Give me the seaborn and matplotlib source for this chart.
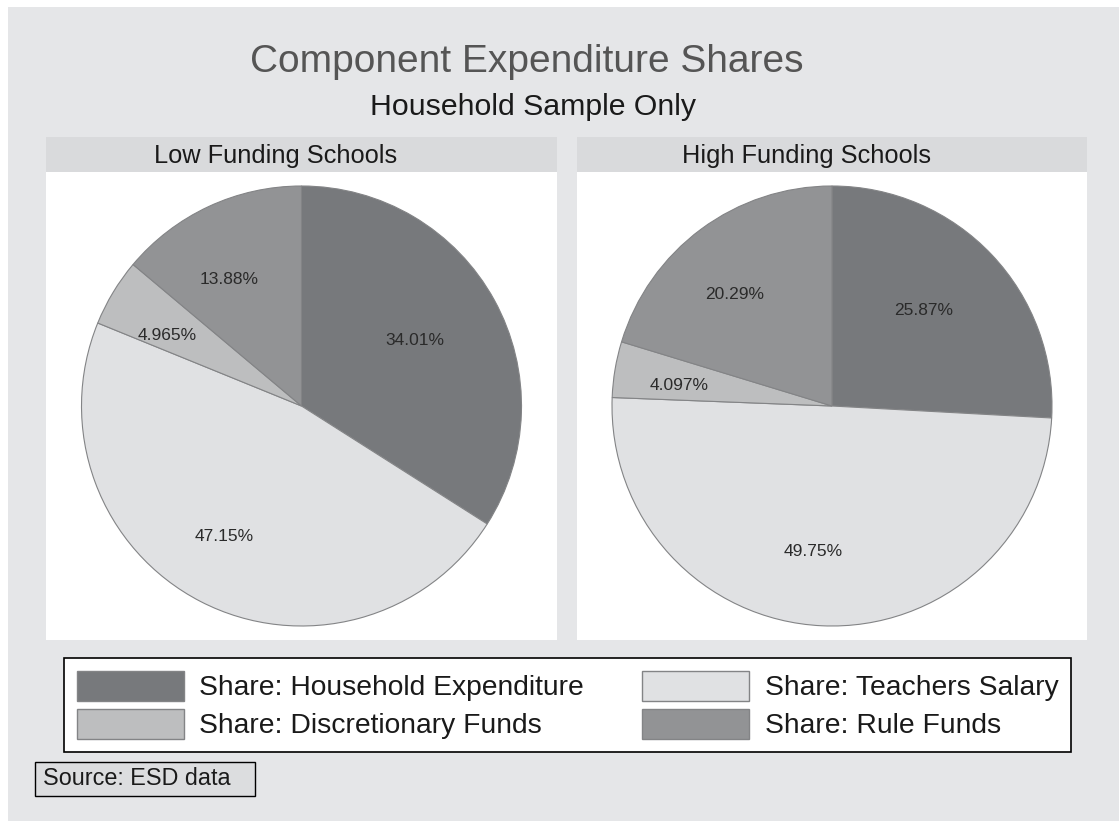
"""
Component expenditure shares, low vs high funding schools (household sample).
Stata-style pair of pies with a shared legend below.
"""
import matplotlib
matplotlib.use("Agg")
import matplotlib.pyplot as plt
import matplotlib.transforms as mtransforms
from matplotlib.patches import Patch, Rectangle
import seaborn as sns

# ---- data -------------------------------------------------------------
panels = ["Low Funding Schools", "High Funding Schools"]
components = [
    "Share: Household Expenditure",
    "Share: Teachers Salary",
    "Share: Discretionary Funds",
    "Share: Rule Funds",
]
low_shares = [34.01, 47.15, 4.965, 13.88]
high_shares = [25.87, 49.75, 4.097, 20.29]

# ---- style ------------------------------------------------------------
sns.set_style("white")
plt.rcParams["font.family"] = ["Liberation Sans", "DejaVu Sans"]

colors = ["#77797c", "#e0e1e3", "#bdbebf", "#929395"]
edge = "#838486"
bg = "#e5e6e8"
strip_bg = "#d9dadc"

W, H = 1119, 821
fig = plt.figure(figsize=(W / 100, H / 100), dpi=100, facecolor="white")
fig.patches.append(Rectangle((8 / W, 0), 1, 1 - 7 / H, transform=fig.transFigure,
                             facecolor=bg, edgecolor="none", zorder=-10))

fig.text(527 / W, 1 - 62 / H, "Component Expenditure Shares", ha="center", va="center",
         fontsize=28, color="#555555")
fig.text(533 / W, 1 - 107 / H, "Household Sample Only", ha="center", va="center",
         fontsize=21.8, color="#1a1a1a")


def fmt(v):
    return f"{v:.4g}%"


panel_x = [(46, 557), (577, 1087)]
top, bottom, strip_top = 172, 640, 137
radius_px = 220

for (x0, x1), title, shares in zip(panel_x, panels, [low_shares, high_shares]):
    # strip (x in pixels across the panel)
    sax = fig.add_axes([x0 / W, 1 - top / H, (x1 - x0) / W, (top - strip_top) / H])
    sax.set_facecolor(strip_bg)
    sax.set_xticks([])
    sax.set_yticks([])
    for s in sax.spines.values():
        s.set_visible(False)
    sax.set_xlim(0, x1 - x0)
    sax.set_ylim(0, 1)
    sax.text((x1 - x0) / 2 - 26, 0.45, title, ha="center", va="center", fontsize=18.3,
             color="#1a1a1a")

    ax = fig.add_axes([x0 / W, 1 - bottom / H, (x1 - x0) / W, (bottom - top) / H])
    wedges, texts = ax.pie(
        shares,
        colors=colors,
        startangle=90,
        counterclock=False,
        labels=[fmt(v) for v in shares],
        labeldistance=0.65,
        wedgeprops=dict(edgecolor=edge, linewidth=0.8),
        textprops=dict(fontsize=12.5, color="#2a2a2a", ha="center", va="center"),
    )
    # Stata's labels sit a little left of / below the wedge midpoint
    shift = mtransforms.offset_copy(ax.transData, fig=fig, x=-12, y=-3, units="dots")
    for t in texts:
        t.set_transform(shift)
    ax.set_frame_on(True)
    ax.set_facecolor("white")
    for s in ax.spines.values():
        s.set_visible(False)
    ax.set_aspect("auto")
    ax.set_xlim(-(x1 - x0) / 2 / radius_px, (x1 - x0) / 2 / radius_px)
    ax.set_ylim(-(bottom - top) / 2 / radius_px, (bottom - top) / 2 / radius_px)

# ---- legend -----------------------------------------------------------
handles = [Patch(facecolor=c, edgecolor=edge, linewidth=1.0, label=l)
           for c, l in zip(colors, components)]
order = [0, 2, 1, 3]
leg = fig.legend(
    [handles[i] for i in order], [components[i] for i in order],
    ncol=2, loc="center", mode="expand",
    bbox_to_anchor=(64 / W, 1 - 752 / H, 1007 / W, 94 / H),
    fontsize=20.3, frameon=True, fancybox=False, edgecolor="black", framealpha=1,
    handlelength=3.8, handleheight=1.3, handletextpad=0.55,
    labelspacing=0.25, borderpad=0.45, borderaxespad=0,
)
leg.get_frame().set_linewidth(1.2)
leg.get_frame().set_facecolor("white")
for t in leg.get_texts():
    t.set_color("#1a1a1a")

# ---- source note ------------------------------------------------------
fig.patches.append(Rectangle((35 / W, 1 - 796 / H), 220 / W, 34 / H, transform=fig.transFigure,
                             facecolor="#dcdddf", edgecolor="black", linewidth=1.0))
fig.text(43 / W, 1 - 778 / H, "Source: ESD data", ha="left", va="center",
         fontsize=16.8, color="#1a1a1a")

fig.savefig("out.png", dpi=100, facecolor="white")
